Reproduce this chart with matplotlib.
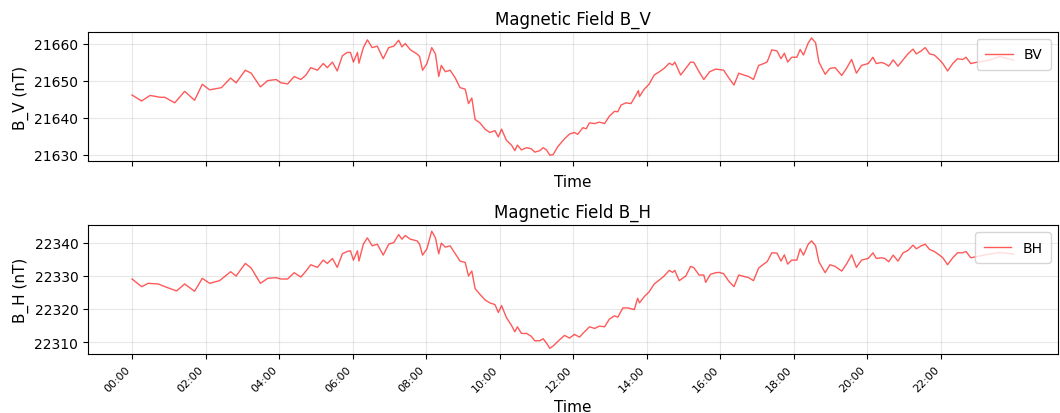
import matplotlib
matplotlib.use("Agg")
import matplotlib.pyplot as plt
import matplotlib.dates as mdates
import pandas as pd

# 读取自图像的时间点(小时)与磁场分量(nT)
bv_hours = [0.0, 0.26, 0.49, 0.76, 0.89, 1.16, 1.43, 1.7, 1.91, 2.11, 2.43, 2.68, 2.83,
            3.08, 3.24, 3.49, 3.69, 3.92, 4.05, 4.23, 4.41, 4.59, 4.73, 4.86, 5.04, 5.2,
            5.31, 5.45, 5.58, 5.72, 5.85, 5.94, 6.02, 6.13, 6.17, 6.29, 6.4, 6.53, 6.67,
            6.83, 6.98, 7.12, 7.25, 7.34, 7.43, 7.57, 7.75, 7.82, 7.9, 8.02, 8.15, 8.25,
            8.34, 8.41, 8.52, 8.65, 8.79, 8.92, 9.06, 9.15, 9.24, 9.33, 9.46, 9.6, 9.73,
            9.87, 9.96, 10.05, 10.18, 10.32, 10.41, 10.48, 10.59, 10.73, 10.86, 10.95,
            11.09, 11.18, 11.27, 11.36, 11.45, 11.58, 11.76, 11.9, 12.03, 12.12, 12.26,
            12.35, 12.44, 12.58, 12.71, 12.85, 12.98, 13.12, 13.21, 13.3, 13.43, 13.57,
            13.7, 13.77, 13.8, 13.93, 14.06, 14.2, 14.34, 14.47, 14.61, 14.7, 14.76,
            14.92, 15.06, 15.19, 15.28, 15.42, 15.55, 15.71, 15.87, 15.96, 16.09, 16.23,
            16.37, 16.5, 16.64, 16.77, 16.9, 17.04, 17.18, 17.27, 17.4, 17.54, 17.65,
            17.74, 17.83, 17.94, 18.08, 18.17, 18.26, 18.39, 18.48, 18.59, 18.68, 18.85,
            18.98, 19.12, 19.3, 19.43, 19.57, 19.7, 19.84, 20.02, 20.15, 20.24, 20.38,
            20.47, 20.58, 20.7, 20.83, 20.97, 21.1, 21.24, 21.33, 21.46, 21.57, 21.69,
            21.82, 21.96, 22.05, 22.18, 22.32, 22.45, 22.59, 22.68, 22.81, 22.95, 23.3,
            23.6, 23.98]
bv = [21646.1, 21644.5, 21646.0, 21645.5, 21645.5, 21644.0, 21647.1, 21644.7, 21649.0,
      21647.5, 21648.1, 21650.7, 21649.4, 21652.8, 21652.0, 21648.3, 21650.0, 21650.3,
      21649.4, 21649.1, 21651.1, 21650.3, 21651.5, 21653.5, 21652.8, 21654.6, 21653.5,
      21655.0, 21652.6, 21656.7, 21657.6, 21657.6, 21655.0, 21657.6, 21654.7, 21658.9,
      21661.0, 21658.9, 21659.3, 21655.9, 21658.9, 21659.3, 21660.9, 21659.1, 21660.0,
      21658.3, 21657.2, 21656.5, 21652.8, 21654.6, 21658.9, 21657.2, 21651.1, 21654.1,
      21652.4, 21652.8, 21650.7, 21648.1, 21647.7, 21643.8, 21645.3, 21639.5, 21638.6,
      21636.9, 21636.0, 21636.5, 21634.8, 21636.9, 21633.9, 21632.6, 21631.1, 21632.6,
      21631.3, 21631.9, 21631.6, 21630.7, 21631.1, 21631.9, 21631.3, 21629.9, 21630.0,
      21632.2, 21634.3, 21635.6, 21636.0, 21635.5, 21637.3, 21637.0, 21638.6, 21638.4,
      21638.8, 21638.4, 21640.4, 21641.7, 21641.6, 21643.4, 21644.0, 21643.8, 21646.0,
      21647.3, 21645.7, 21647.7, 21649.0, 21651.5, 21652.4, 21653.3, 21654.7, 21654.2,
      21655.0, 21651.5, 21653.3, 21655.0, 21654.9, 21652.4, 21650.3, 21652.4, 21653.1,
      21653.0, 21652.8, 21650.7, 21648.8, 21652.0, 21651.5, 21651.1, 21650.3, 21654.1,
      21654.6, 21655.0, 21658.3, 21658.0, 21655.9, 21657.4, 21655.0, 21656.3, 21656.3,
      21658.4, 21656.9, 21660.2, 21661.5, 21660.2, 21655.0, 21651.7, 21653.3, 21653.5,
      21651.4, 21653.3, 21655.7, 21652.0, 21654.1, 21654.6, 21656.3, 21654.6, 21654.9,
      21654.6, 21653.9, 21655.6, 21653.9, 21655.6, 21657.2, 21658.5, 21657.2, 21658.0,
      21658.9, 21657.2, 21656.9, 21655.6, 21654.6, 21652.6, 21654.6, 21655.9, 21655.7,
      21656.3, 21654.6, 21654.9, 21655.5, 21656.5, 21655.5]

bh_hours = [0.0, 0.26, 0.44, 0.71, 0.94, 1.21, 1.43, 1.7, 1.91, 2.11, 2.38, 2.68, 2.83,
            3.08, 3.24, 3.49, 3.69, 3.92, 4.05, 4.23, 4.41, 4.59, 4.73, 4.86, 5.04, 5.2,
            5.31, 5.45, 5.58, 5.72, 5.85, 5.94, 6.02, 6.13, 6.17, 6.29, 6.4, 6.53, 6.67,
            6.83, 6.98, 7.12, 7.25, 7.34, 7.43, 7.57, 7.75, 7.82, 7.9, 8.02, 8.15, 8.25,
            8.34, 8.41, 8.52, 8.65, 8.79, 8.92, 9.06, 9.15, 9.24, 9.33, 9.46, 9.6, 9.73,
            9.87, 9.96, 10.05, 10.18, 10.32, 10.41, 10.48, 10.59, 10.73, 10.86, 10.95,
            11.09, 11.18, 11.27, 11.36, 11.45, 11.58, 11.76, 11.9, 12.03, 12.17, 12.26,
            12.44, 12.58, 12.71, 12.85, 12.98, 13.12, 13.21, 13.35, 13.48, 13.66, 13.75,
            13.8, 13.93, 14.06, 14.2, 14.34, 14.47, 14.61, 14.7, 14.76, 14.88, 15.06,
            15.19, 15.28, 15.42, 15.55, 15.6, 15.73, 15.87, 15.96, 16.09, 16.23, 16.37,
            16.5, 16.64, 16.77, 16.9, 17.04, 17.18, 17.27, 17.4, 17.54, 17.65, 17.74,
            17.83, 17.94, 18.08, 18.17, 18.26, 18.39, 18.48, 18.59, 18.68, 18.85, 18.98,
            19.12, 19.3, 19.43, 19.57, 19.7, 19.84, 20.02, 20.15, 20.24, 20.38, 20.47,
            20.58, 20.7, 20.83, 20.97, 21.1, 21.24, 21.33, 21.46, 21.57, 21.69, 21.82,
            21.96, 22.05, 22.18, 22.32, 22.45, 22.59, 22.68, 22.81, 22.95, 23.3, 23.6,
            23.98]
bh = [22329.0, 22326.7, 22327.7, 22327.5, 22326.5, 22325.4, 22327.5, 22325.3, 22329.2,
      22327.7, 22328.5, 22331.2, 22329.9, 22333.7, 22332.3, 22327.7, 22329.2, 22329.4,
      22329.0, 22329.0, 22330.9, 22329.6, 22331.4, 22333.3, 22332.5, 22334.7, 22333.7,
      22335.2, 22332.5, 22336.6, 22337.3, 22337.5, 22334.7, 22337.5, 22334.4, 22339.5,
      22341.4, 22339.0, 22339.5, 22336.2, 22339.5, 22340.0, 22342.4, 22341.0, 22342.1,
      22341.0, 22340.5, 22339.5, 22336.2, 22338.1, 22343.4, 22341.4, 22336.6, 22339.8,
      22338.6, 22339.0, 22336.6, 22334.4, 22334.0, 22329.9, 22331.4, 22326.1, 22324.4,
      22322.7, 22321.8, 22321.3, 22318.9, 22321.0, 22317.4, 22315.0, 22313.1, 22314.6,
      22312.6, 22312.6, 22311.7, 22310.4, 22310.4, 22311.0, 22309.7, 22308.1, 22308.8,
      22310.2, 22312.0, 22311.2, 22312.3, 22311.5, 22312.6, 22314.6, 22314.1, 22314.8,
      22314.6, 22316.9, 22317.9, 22317.5, 22320.3, 22320.3, 22319.8, 22323.2, 22321.8,
      22323.7, 22325.1, 22327.5, 22328.7, 22329.9, 22331.6, 22331.0, 22331.6, 22328.5,
      22329.9, 22332.8, 22332.4, 22330.2, 22330.2, 22328.0, 22330.4, 22330.9, 22331.0,
      22330.6, 22328.3, 22326.7, 22330.2, 22329.8, 22329.4, 22328.5, 22332.3, 22333.5,
      22334.2, 22336.9, 22336.8, 22334.4, 22336.3, 22333.5, 22334.7, 22334.7, 22338.1,
      22336.2, 22339.5, 22340.5, 22339.0, 22334.2, 22330.9, 22333.3, 22332.8, 22331.4,
      22333.5, 22336.3, 22332.5, 22334.7, 22335.2, 22336.9, 22335.2, 22335.4, 22335.2,
      22334.2, 22336.2, 22334.4, 22336.9, 22337.6, 22339.2, 22338.1, 22339.0, 22339.5,
      22337.9, 22337.3, 22336.2, 22335.4, 22333.3, 22335.4, 22336.9, 22336.9, 22337.3,
      22335.4, 22335.7, 22336.5, 22337.0, 22336.5]

tick_hours = list(range(0, 24, 2))

base = pd.Timestamp("2024-01-01")
t_bv = base + pd.to_timedelta(bv_hours, unit="h")
t_bh = base + pd.to_timedelta(bh_hours, unit="h")
t_ticks = base + pd.to_timedelta(tick_hours, unit="h")

fig, (ax1, ax2) = plt.subplots(2, 1, figsize=(10.6, 4.14), dpi=100, sharex=True)
fig.subplots_adjust(left=0.083, right=0.998, top=0.92, bottom=0.142, hspace=0.5)

ax1.plot(t_bv, bv, color="red", alpha=0.65, lw=1, label="BV")
ax1.set_title("Magnetic Field B_V", fontsize=12)
ax1.set_ylabel("B_V (nT)", fontsize=11)
ax1.set_xlabel("Time", fontsize=11, labelpad=6)
ax1.xaxis.set_tick_params(labelbottom=False)
ax1.legend(loc="upper right", borderpad=0.6)
ax1.grid(alpha=0.3)

ax2.plot(t_bh, bh, color="red", alpha=0.65, lw=1, label="BH")
ax2.set_title("Magnetic Field B_H", fontsize=12)
ax2.set_ylabel("B_H (nT)", fontsize=11)
ax2.set_xlabel("Time", fontsize=11)
ax2.legend(loc="upper right", borderpad=0.6)
ax2.grid(alpha=0.3)

ax2.set_xticks(t_ticks)
ax2.xaxis.set_major_formatter(mdates.DateFormatter("%H:%M"))
for lab in ax2.get_xticklabels():
    lab.set_rotation(45)
    lab.set_ha("right")
    lab.set_fontsize(8)

for ax in (ax1, ax2):
    ax.tick_params(axis="y", labelsize=10)

ax1.set_yticks([21630, 21640, 21650, 21660])
ax2.set_yticks([22310, 22320, 22330, 22340])

fig.savefig("out.png")
